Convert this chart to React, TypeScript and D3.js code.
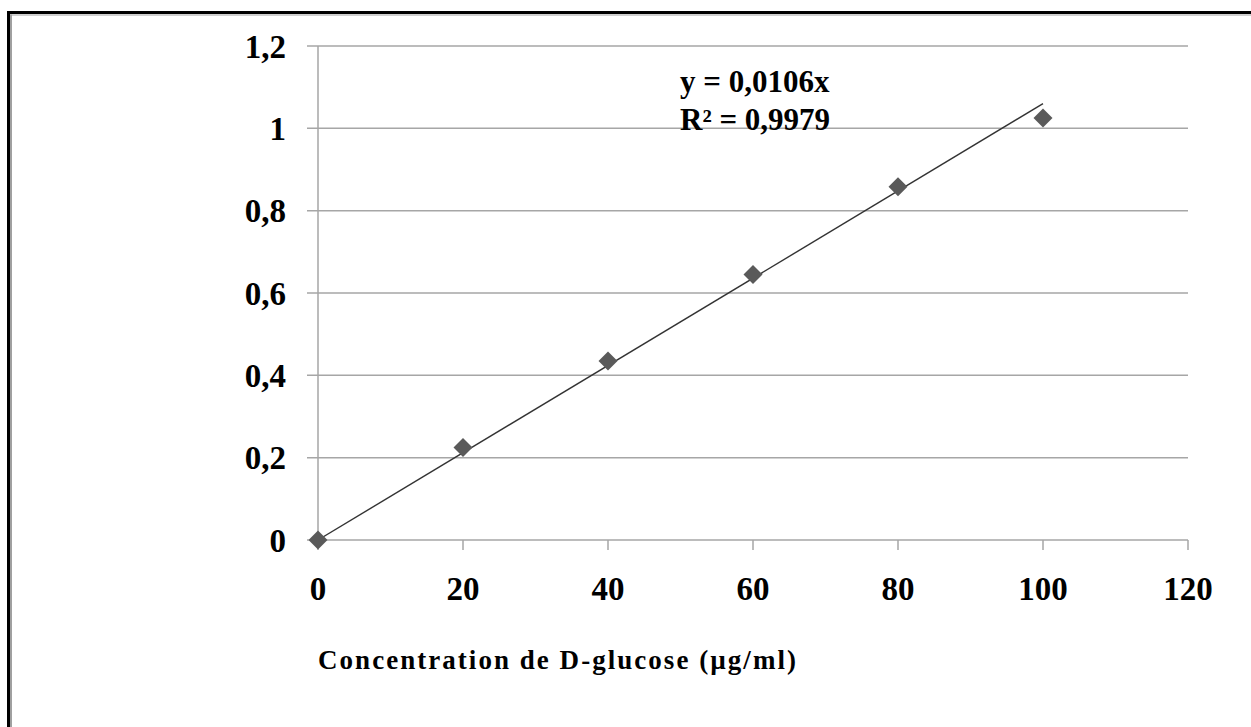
import React from "react";
import * as d3 from "d3";

const concentrations = [0, 20, 40, 60, 80, 100];
const absorbances = [0, 0.225, 0.435, 0.645, 0.858, 1.025];
const xTicks = [0, 20, 40, 60, 80, 100, 120];
const yTicks = [0, 0.2, 0.4, 0.6, 0.8, 1, 1.2];
const slope = 0.0106;
const equationLines = ["y = 0,0106x", "R² = 0,9979"];
const xTitle = "Concentration de D-glucose (µg/ml)";

const W = 1251;
const H = 727;
const left = 318, right = 1188, top = 46, bottom = 540;

export default function App() {
  const x = d3.scaleLinear().domain([0, 120]).range([left, right]);
  const y = d3.scaleLinear().domain([0, 1.2]).range([bottom, top]);
  const fmt = (v: number) => (Math.round(v * 10) / 10).toString().replace(".", ",");
  const trend = d3.line<number>().x((d) => x(d)).y((d) => y(slope * d))([0, 100]) || "";
  const font = "'Liberation Serif', 'Times New Roman', serif";
  const grid = "#a6a6a6";
  return (
    <svg width={W} height={H} style={{ position: "absolute", left: 0, top: 0, background: "#fff" }}>
      <rect x={0} y={0} width={W} height={H} fill="#fff" />
      {/* frame */}
      <line x1={8.5} y1={11} x2={8.5} y2={H} stroke="#000" strokeWidth={3} />
      <line x1={7} y1={12.5} x2={W} y2={12.5} stroke="#000" strokeWidth={3} />
      <line x1={11} y1={14.5} x2={11} y2={H} stroke="#a0a0a0" strokeWidth={2} />
      <line x1={10} y1={15} x2={W} y2={15} stroke="#a0a0a0" strokeWidth={1} />
      {/* gridlines */}
      {yTicks.map((t) => (
        <line key={"g" + t} x1={left - 11} x2={right} y1={y(t)} y2={y(t)} stroke={grid} strokeWidth={1.5} />
      ))}
      {/* y axis */}
      <line x1={left} x2={left} y1={top} y2={bottom} stroke={grid} strokeWidth={1.5} />
      {/* x ticks */}
      {xTicks.map((t) => (
        <line key={"xt" + t} x1={x(t)} x2={x(t)} y1={bottom} y2={bottom + 10} stroke={grid} strokeWidth={1.5} />
      ))}
      {/* y labels */}
      {yTicks.map((t) => (
        <text key={"yl" + t} x={286} y={y(t)} dy="0.35em" textAnchor="end" fontFamily={font} fontWeight="bold" fontSize={33} fill="#000">
          {fmt(t)}
        </text>
      ))}
      {/* x labels */}
      {xTicks.map((t) => (
        <text key={"xl" + t} x={x(t)} y={600} textAnchor="middle" fontFamily={font} fontWeight="bold" fontSize={33} fill="#000">
          {t}
        </text>
      ))}
      {/* trendline */}
      <path d={trend} stroke="#333" strokeWidth={1.4} fill="none" />
      {/* markers */}
      {concentrations.map((c, i) => {
        const cx = x(c), cy = y(absorbances[i]);
        const r = 9.5;
        return (
          <path key={"m" + i} d={`M${cx},${cy - r}L${cx + r},${cy}L${cx},${cy + r}L${cx - r},${cy}Z`} fill="#5a5a5a" />
        );
      })}
      {/* equation */}
      {equationLines.map((l, i) => (
        <text key={"eq" + i} x={680} y={92 + i * 38} fontFamily={font} fontWeight="bold" fontSize={31} fill="#000">
          {l}
        </text>
      ))}
      <text x={318} y={669} fontFamily={font} fontWeight="bold" fontSize={27} textLength={478} lengthAdjust="spacing" fill="#000">
        {xTitle}
      </text>
    </svg>
  );
}
